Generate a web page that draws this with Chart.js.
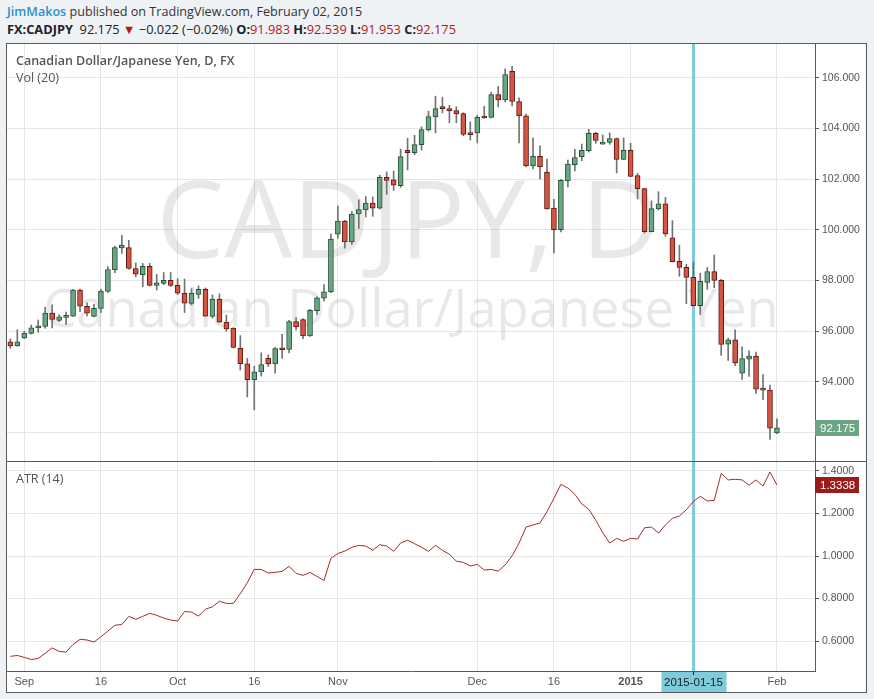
<!DOCTYPE html>
<html>
<head>
<meta charset="utf-8">
<script src="https://cdn.jsdelivr.net/npm/chart.js@4.4.1/dist/chart.umd.min.js"></script>
<style>
  body { margin: 0; width: 874px; height: 699px; background: #eff2f5; font-family: 'Open Sans', sans-serif; position: relative; overflow: hidden; }
  #hdr1 { position: absolute; left: 7px; top: 3px; font-size: 12.6px; color: #333; white-space: nowrap; }
  #hdr1 .user { color: #2e8fcc; font-weight: 600; }
  #hdr2 { position: absolute; left: 7px; top: 20px; font-size: 12.8px; color: #222; white-space: nowrap; }
  #hdr2 b { font-weight: 700; }
  #hdr2 .r { color: #b0191c; }
  #frame { position: absolute; left: 6px; top: 43px; width: 859px; height: 648px; border: 1px solid #5a5a5a; background: #fff; }
  canvas { display: block; }
</style>
</head>
<body>
<div id="hdr1"><span class="user">JimMakos</span> published on TradingView.com, February 02, 2015</div>
<div id="hdr2"><b>FX:CADJPY</b>&nbsp; 92.175 <span class="r">&#9660;</span> &minus;0.022 (&minus;0.02%) <b>O:</b><span class="r">91.983</span> <b>H:</b><span class="r">92.539</span> <b>L:</b><span class="r">91.953</span> <b>C:</b><span class="r">92.175</span></div>
<div id="frame"><canvas id="chart" width="859" height="648"></canvas></div>
<script>
// daily bars, first bar is 2014-08-28 (index -2), Sep 1 = index 0
const firstIndex = -2;

const opens = [
  95.57, 95.41, 95.73, 95.91, 96.12, 96.18, 96.71, 96.42, 96.54, 96.59,
  97.62, 96.98, 96.58, 96.89, 97.56, 98.42, 99.28, 99.29, 98.47, 98.22,
  98.55, 97.80, 97.88, 98.00, 97.80, 97.49, 97.09, 97.45, 97.65, 96.58,
  97.26, 96.35, 96.12, 95.33, 94.71, 94.08, 94.39, 94.92, 94.70, 95.30,
  95.27, 96.37, 96.45, 95.81, 96.80, 97.30, 97.54, 99.82, 100.34, 99.52,
  100.62, 100.78, 101.05, 100.85, 102.07, 101.97, 101.74, 103.13, 103.04, 103.36,
  103.94, 104.45, 104.86, 104.78, 104.70, 104.58, 103.77, 103.82, 104.44, 104.43,
  105.33, 105.12, 106.25, 105.06, 104.49, 102.52, 102.90, 102.27, 100.85, 100.00,
  101.93, 102.57, 102.88, 103.12, 103.80, 103.38, 103.45, 103.60, 102.77, 103.13,
  102.14, 101.62, 99.92, 100.82, 101.02, 99.68, 98.75, 98.51, 98.12, 97.00,
  97.92, 98.35, 98.00, 95.48, 95.65, 94.34, 94.89, 95.01, 93.71, 93.67,
  91.983
];
const highs = [
  95.69, 96.05, 95.99, 96.24, 96.44, 96.94, 97.03, 96.64, 96.75, 97.65,
  97.66, 97.11, 97.06, 97.65, 98.54, 99.35, 99.78, 99.58, 98.69, 98.67,
  98.67, 98.24, 98.31, 98.31, 98.07, 98.05, 97.67, 97.78, 97.70, 97.43,
  97.47, 96.63, 96.13, 95.82, 94.92, 94.61, 95.14, 95.06, 95.35, 95.87,
  96.42, 96.53, 96.49, 96.86, 97.35, 97.83, 99.83, 100.93, 100.37, 100.72,
  101.18, 101.31, 101.29, 102.15, 102.28, 102.32, 103.18, 103.61, 103.73, 104.06,
  104.68, 105.27, 105.23, 104.91, 104.85, 104.62, 104.26, 104.52, 104.87, 105.42,
  105.66, 106.35, 106.45, 105.21, 104.56, 103.63, 103.31, 102.79, 101.20, 101.99,
  102.75, 103.17, 103.38, 103.96, 103.85, 103.74, 103.82, 103.62, 103.62, 103.41,
  102.22, 101.64, 101.14, 101.50, 101.28, 100.36, 99.39, 98.64, 98.72, 98.28,
  98.51, 99.00, 98.04, 95.72, 96.05, 95.38, 95.22, 95.17, 94.28, 93.87,
  92.539
];
const lows = [
  95.32, 95.40, 95.70, 95.88, 95.95, 96.11, 96.12, 96.37, 96.25, 96.58,
  96.76, 96.60, 96.56, 96.73, 97.52, 98.30, 99.06, 98.44, 98.14, 97.75,
  97.78, 97.62, 97.83, 97.75, 97.44, 96.73, 97.03, 97.29, 96.58, 96.51,
  96.34, 95.99, 95.33, 94.46, 93.40, 92.89, 94.22, 94.60, 94.34, 94.92,
  95.14, 96.04, 95.70, 95.79, 96.66, 97.18, 97.51, 99.66, 99.27, 99.42,
  100.05, 100.50, 100.53, 100.81, 101.39, 101.55, 101.67, 102.36, 102.96, 103.14,
  103.89, 103.82, 104.61, 104.22, 104.22, 103.71, 103.54, 103.43, 104.39, 104.41,
  104.85, 105.04, 104.89, 103.43, 102.48, 102.40, 101.99, 100.81, 99.08, 99.91,
  101.69, 102.32, 102.72, 103.06, 103.41, 103.37, 103.37, 102.24, 102.76, 102.09,
  101.21, 99.87, 99.91, 100.78, 99.74, 98.73, 98.16, 97.08, 96.99, 96.65,
  97.65, 97.71, 95.04, 94.84, 94.63, 94.09, 94.21, 93.54, 93.29, 91.72,
  91.953
];
const closes = [
  95.41, 95.57, 95.92, 96.13, 96.21, 96.71, 96.46, 96.56, 96.60, 97.62,
  96.98, 96.71, 96.90, 97.58, 98.43, 99.29, 99.39, 98.47, 98.24, 98.55,
  97.80, 97.90, 98.00, 97.80, 97.49, 97.10, 97.49, 97.65, 96.59, 97.26,
  96.35, 96.08, 95.35, 94.71, 94.08, 94.39, 94.68, 94.70, 95.31, 95.26,
  96.37, 96.16, 95.81, 96.82, 97.31, 97.55, 99.63, 100.34, 99.52, 100.62,
  100.79, 101.05, 100.85, 102.07, 101.95, 101.76, 102.89, 103.04, 103.36, 103.95,
  104.47, 104.78, 104.78, 104.69, 104.57, 103.76, 103.75, 104.44, 104.41, 105.33,
  105.12, 106.12, 105.06, 104.49, 102.52, 102.90, 102.48, 100.82, 100.00, 101.95,
  102.59, 102.85, 103.13, 103.80, 103.52, 103.41, 103.60, 102.77, 103.13, 102.10,
  101.62, 99.92, 100.83, 101.02, 99.83, 98.74, 98.51, 98.12, 97.00, 97.96,
  98.35, 98.00, 95.47, 95.65, 94.74, 94.91, 95.01, 93.71, 93.67, 92.17,
  92.175
];
const atr14 = [
  0.528, 0.532, 0.523, 0.513, 0.518, 0.542, 0.568, 0.551, 0.548, 0.584,
  0.608, 0.605, 0.595, 0.620, 0.647, 0.674, 0.678, 0.716, 0.702, 0.716,
  0.730, 0.721, 0.708, 0.699, 0.694, 0.739, 0.736, 0.717, 0.750, 0.761,
  0.787, 0.777, 0.777, 0.823, 0.874, 0.937, 0.937, 0.920, 0.923, 0.928,
  0.951, 0.918, 0.909, 0.923, 0.904, 0.885, 0.989, 1.012, 1.023, 1.041,
  1.050, 1.047, 1.027, 1.053, 1.047, 1.022, 1.061, 1.074, 1.058, 1.041,
  1.022, 1.050, 1.027, 1.008, 0.976, 0.970, 0.953, 0.961, 0.934, 0.937,
  0.929, 0.958, 1.001, 1.061, 1.136, 1.146, 1.155, 1.209, 1.271, 1.337,
  1.320, 1.290, 1.245, 1.220, 1.168, 1.110, 1.061, 1.083, 1.069, 1.083,
  1.080, 1.133, 1.136, 1.108, 1.146, 1.177, 1.188, 1.218, 1.256, 1.281,
  1.259, 1.262, 1.389, 1.358, 1.361, 1.358, 1.333, 1.358, 1.329, 1.395,
  1.3338
];

const tickIndex = [0, 11, 22, 33, 45, 65, 76, 87, 108];
const tickLabels = ['Sep', '16', 'Oct', '16', 'Nov', 'Dec', '16', '2015', 'Feb'];
const priceTicks = [92, 94, 96, 98, 100, 102, 104, 106];
const atrTicks = [0.6, 0.8, 1.0, 1.2, 1.4];
const markIndex = 96;
const markLabel = '2015-01-15';

const upFill = '#6ba583', upLine = '#225437';
const downFill = '#d75442', downLine = '#5b1a13';
const gridColor = '#e6e6e6';
const axisColor = '#5a5a5a';
const labelColor = '#555';
const axisFont = '"Liberation Sans", Arial';

const xs = opens.map((_, i) => i + firstIndex);
const isUp = closes.map((c, i) => c >= opens[i]);
const lastPrice = closes[closes.length - 1];
const lastAtr = atr14[atr14.length - 1];

// no extra padding around the plot, TradingView style
function noPad(s) {
    s.paddingTop = 0;
    s.paddingBottom = 0;
    s.paddingLeft = 0;
    s.paddingRight = 0;
}

const paneDecor = {
    id: 'paneDecor',
    beforeDatasetsDraw(chart) {
        const ctx = chart.ctx;
        const area = chart.chartArea;
        const y = chart.scales.y;
        const cx = (area.left + area.right) / 2;
        ctx.save();
        // watermark
        ctx.fillStyle = 'rgba(0,0,0,0.09)';
        ctx.textAlign = 'center';
        ctx.textBaseline = 'alphabetic';
        ctx.font = '108px "Open Sans"';
        ctx.fillText('CADJPY, D', cx - 3, y.top + 214);
        ctx.font = '52.5px "Open Sans"';
        ctx.fillText('Canadian Dollar/Japanese Yen', cx, y.top + 283);
        // marker line
        const mx = Math.round(chart.scales.x.getPixelForValue(markIndex)) + 0.5;
        ctx.strokeStyle = '#7ecbdb';
        ctx.lineWidth = 3;
        ctx.beginPath();
        ctx.moveTo(mx, area.top);
        ctx.lineTo(mx, area.bottom);
        ctx.stroke();
        // titles
        ctx.textAlign = 'left';
        ctx.textBaseline = 'middle';
        ctx.fillStyle = '#555';
        ctx.font = '600 12.5px "Open Sans"';
        ctx.fillText('Canadian Dollar/Japanese Yen, D, FX', 9, y.top + 17);
        ctx.font = '12.5px "Open Sans"';
        ctx.fillText('Vol (20)', 9, y.top + 34);
        ctx.fillText('ATR (14)', 9, chart.scales.yAtr.top + 18);
        ctx.restore();
    },
    afterDraw(chart) {
        const ctx = chart.ctx;
        const area = chart.chartArea;
        const y = chart.scales.y;
        const ya = chart.scales.yAtr;
        const x = chart.scales.x;
        ctx.save();
        // pane divider
        ctx.strokeStyle = axisColor;
        ctx.lineWidth = 1;
        ctx.beginPath();
        ctx.moveTo(0, Math.round(y.bottom) + 0.5);
        ctx.lineTo(chart.width, Math.round(y.bottom) + 0.5);
        ctx.stroke();
        // last value boxes
        const box = (py, text, color) => {
            ctx.fillStyle = color;
            ctx.fillRect(area.right, Math.round(py) - 8, 44, 16);
            ctx.fillStyle = '#fff';
            ctx.font = '11.5px ' + axisFont;
            ctx.textAlign = 'left';
            ctx.textBaseline = 'middle';
            ctx.fillText(text, area.right + 5, Math.round(py) + 0.5);
        };
        box(y.getPixelForValue(lastPrice), lastPrice.toFixed(3), '#6ba583');
        box(ya.getPixelForValue(lastAtr), lastAtr.toFixed(4), '#9b1b1b');
        // marker date label
        const mx = Math.round(x.getPixelForValue(markIndex)) + 0.5;
        ctx.fillStyle = '#7ecbdb';
        ctx.fillRect(mx - 32, area.bottom + 1, 65, chart.height - area.bottom - 1);
        ctx.fillStyle = '#222';
        ctx.fillRect(mx - 0.5, area.bottom + 1, 1, 3);
        ctx.font = '11.5px ' + axisFont;
        ctx.textAlign = 'center';
        ctx.textBaseline = 'middle';
        ctx.fillText(markLabel, mx, area.bottom + 12);
        ctx.restore();
    }
};

new Chart(document.getElementById('chart'), {
    type: 'bar',
    data: {
        datasets: [
            {
                label: 'body',
                order: 0,
                grouped: false,
                data: xs.map((x, i) => ({x: x, y: [opens[i], closes[i]]})),
                backgroundColor: isUp.map(u => u ? upFill : downFill),
                borderColor: isUp.map(u => u ? upLine : downLine),
                borderWidth: 1,
                borderSkipped: false,
                barThickness: 5,
                minBarLength: 2,
                yAxisID: 'y'
            },
            {
                label: 'wick',
                order: 1,
                grouped: false,
                data: xs.map((x, i) => ({x: x, y: [lows[i], highs[i]]})),
                backgroundColor: '#737375',
                borderWidth: 0,
                barThickness: 1,
                yAxisID: 'y'
            },
            {
                type: 'line',
                label: 'ATR (14)',
                order: 2,
                data: xs.map((x, i) => ({x: x, y: atr14[i]})),
                borderColor: '#a82a2a',
                borderWidth: 1,
                pointRadius: 0,
                tension: 0,
                yAxisID: 'yAtr'
            }
        ]
    },
    options: {
        responsive: false,
        animation: false,
        devicePixelRatio: 1,
        layout: {padding: 0},
        plugins: {legend: {display: false}, tooltip: {enabled: false}},
        scales: {
            x: {
                type: 'linear',
                min: -2.48,
                max: 113.46,
                offset: false,
                grid: {color: gridColor, drawTicks: false, offset: false},
                border: {color: axisColor},
                ticks: {
                    autoSkip: false,
                    maxRotation: 0,
                    padding: 4,
                    color: labelColor,
                    font: ctx => ({family: axisFont, size: 11, weight: tickLabels[ctx.index] === '2015' ? 'bold' : 'normal'}),
                    callback: (v, i) => tickLabels[i]
                },
                afterBuildTicks: s => { s.ticks = tickIndex.map(v => ({value: v})); },
                afterFit: s => { s.height = 21; noPad(s); }
            },
            y: {
                type: 'linear',
                position: 'right',
                stack: 'panes',
                stackWeight: 417,
                min: 90.87,
                max: 107.33,
                grid: {color: gridColor, tickLength: 4, tickColor: axisColor},
                border: {color: axisColor},
                ticks: {
                    padding: 3,
                    color: labelColor,
                    font: {family: axisFont, size: 10.5},
                    callback: v => Math.abs(v - lastPrice) < 0.5 ? '' : v.toFixed(3)
                },
                afterBuildTicks: s => { s.ticks = priceTicks.map(v => ({value: v})); },
                afterFit: s => { s.width = 51; noPad(s); }
            },
            yAtr: {
                type: 'linear',
                position: 'right',
                stack: 'panes',
                stackWeight: 210,
                min: 0.459,
                max: 1.447,
                grid: {color: gridColor, tickLength: 4, tickColor: axisColor},
                border: {color: axisColor},
                ticks: {
                    padding: 3,
                    color: labelColor,
                    font: {family: axisFont, size: 10.5},
                    callback: v => v.toFixed(4)
                },
                afterBuildTicks: s => { s.ticks = atrTicks.map(v => ({value: v})); },
                afterFit: s => { s.width = 51; noPad(s); }
            }
        }
    },
    plugins: [paneDecor]
});
</script>
</body>
</html>
